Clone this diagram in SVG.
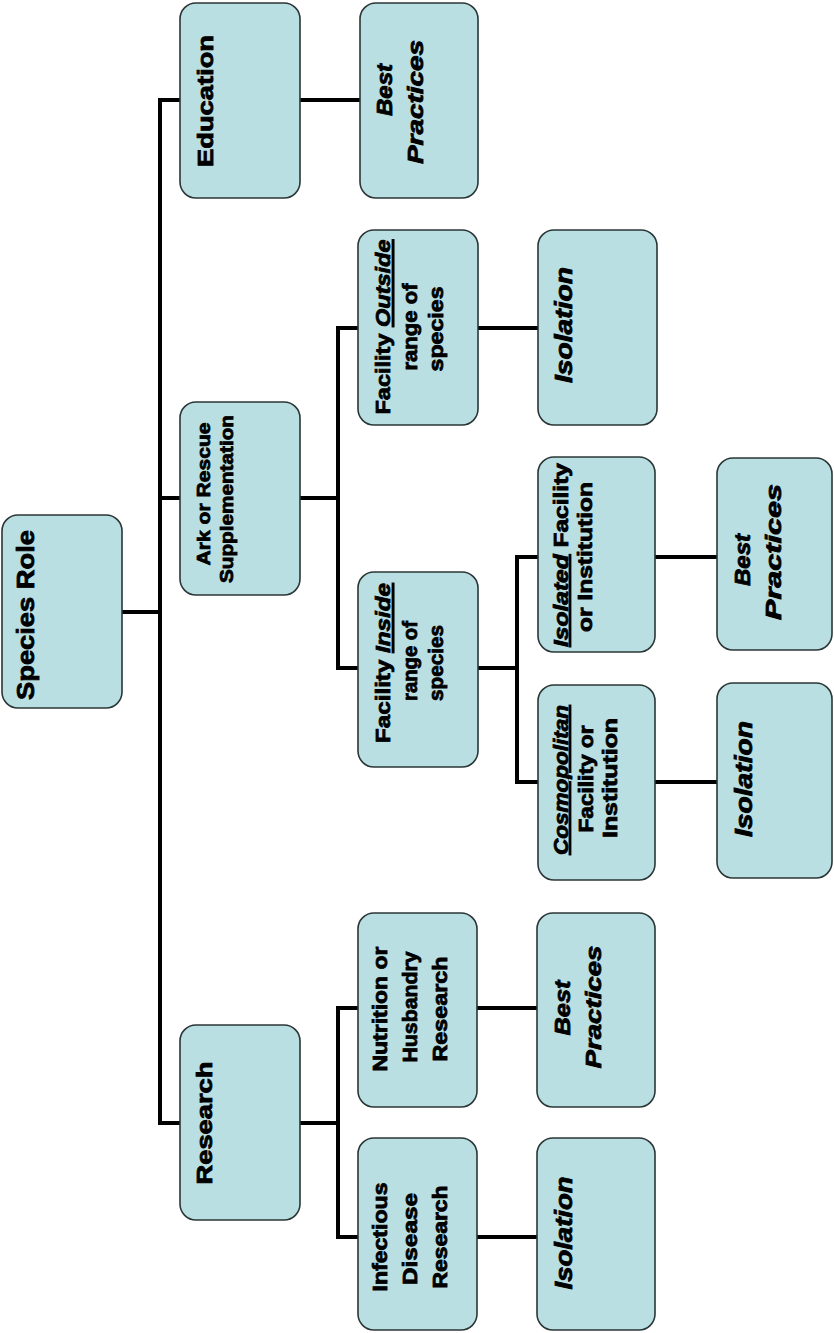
<svg xmlns="http://www.w3.org/2000/svg" width="834" height="1333" viewBox="0 0 834 1333">
<style>
.box{fill:#b9dfe3;stroke:#2b3636;stroke-width:1.6}
.lbl{font-family:"Liberation Sans",Arial,sans-serif;font-weight:bold;fill:#000;stroke:#000;stroke-width:0.8;text-anchor:middle}
.it{font-style:italic}
.u{text-decoration:underline}
.conn{stroke:#000;stroke-width:4;fill:none;stroke-linecap:square}
</style>
<rect width="834" height="1333" fill="#fff"/>
<g id="connectors">
<path class="conn" d="M122 612H160M160 100V1123M160 100H180M160 498H180M160 1123H180"/>
<path class="conn" d="M300 100H360"/>
<path class="conn" d="M300 498H338M338 328V668M338 328H358M338 668H358"/>
<path class="conn" d="M478 328H538"/>
<path class="conn" d="M478 668H517M517 557V782M517 557H538M517 782H538"/>
<path class="conn" d="M655 557H717M655 782H717"/>
<path class="conn" d="M300 1123H338M338 1008V1237M338 1008H358M338 1237H358"/>
<path class="conn" d="M477 1008H537M477 1237H537"/>
</g>
<g id="species-role">
<rect class="box" x="2" y="515" width="120" height="193" rx="16"/>
<text class="lbl" font-size="24" transform="translate(34,615) rotate(-90)" textLength="170" lengthAdjust="spacingAndGlyphs">Species Role</text>
</g>
<g id="education">
<rect class="box" x="180" y="3" width="120" height="195" rx="16"/>
<text class="lbl" font-size="22" transform="translate(213,101) rotate(-90)" textLength="132" lengthAdjust="spacingAndGlyphs">Education</text>
</g>
<g id="education-best-practices">
<rect class="box" x="360" y="3" width="118" height="195" rx="16"/>
<text class="lbl it" font-size="22" transform="translate(392,90) rotate(-90)" textLength="52" lengthAdjust="spacingAndGlyphs">Best</text>
<text class="lbl it" font-size="22" transform="translate(423,102) rotate(-90)" textLength="124" lengthAdjust="spacingAndGlyphs">Practices</text>
</g>
<g id="ark">
<rect class="box" x="180" y="402" width="120" height="193" rx="16"/>
<text class="lbl" font-size="19" transform="translate(210,494) rotate(-90)" textLength="143" lengthAdjust="spacingAndGlyphs">Ark or Rescue</text>
<text class="lbl" font-size="19" transform="translate(233,499) rotate(-90)" textLength="168" lengthAdjust="spacingAndGlyphs">Supplementation</text>
</g>
<g id="facility-outside">
<rect class="box" x="358" y="230" width="120" height="195" rx="16"/>
<text class="lbl" font-size="21" transform="translate(390,327) rotate(-90)" textLength="175" lengthAdjust="spacingAndGlyphs">Facility <tspan class="it u">Outside</tspan></text>
<text class="lbl" font-size="21" transform="translate(417,327) rotate(-90)" textLength="87" lengthAdjust="spacingAndGlyphs">range of</text>
<text class="lbl" font-size="21" transform="translate(443,329) rotate(-90)" textLength="85" lengthAdjust="spacingAndGlyphs">species</text>
</g>
<g id="outside-isolation">
<rect class="box" x="538" y="230" width="119" height="195" rx="16"/>
<text class="lbl it" font-size="23" transform="translate(572,325) rotate(-90)" textLength="116" lengthAdjust="spacingAndGlyphs">Isolation</text>
</g>
<g id="facility-inside">
<rect class="box" x="358" y="572" width="120" height="195" rx="16"/>
<text class="lbl" font-size="21" transform="translate(390,663) rotate(-90)" textLength="160" lengthAdjust="spacingAndGlyphs">Facility <tspan class="it u">Inside</tspan></text>
<text class="lbl" font-size="21" transform="translate(417,661) rotate(-90)" textLength="80" lengthAdjust="spacingAndGlyphs">range of</text>
<text class="lbl" font-size="21" transform="translate(443,663) rotate(-90)" textLength="76" lengthAdjust="spacingAndGlyphs">species</text>
</g>
<g id="isolated-facility">
<rect class="box" x="538" y="457" width="117" height="195" rx="16"/>
<text class="lbl" font-size="20" transform="translate(568,555) rotate(-90)" textLength="184" lengthAdjust="spacingAndGlyphs"><tspan class="it u">Isolated</tspan> Facility</text>
<text class="lbl" font-size="20" transform="translate(592,557) rotate(-90)" textLength="150" lengthAdjust="spacingAndGlyphs">or Institution</text>
</g>
<g id="isolated-best-practices">
<rect class="box" x="717" y="458" width="115" height="192" rx="16"/>
<text class="lbl it" font-size="22" transform="translate(750,560) rotate(-90)" textLength="52" lengthAdjust="spacingAndGlyphs">Best</text>
<text class="lbl it" font-size="22" transform="translate(781,552) rotate(-90)" textLength="136" lengthAdjust="spacingAndGlyphs">Practices</text>
</g>
<g id="cosmopolitan-facility">
<rect class="box" x="538" y="685" width="117" height="195" rx="16"/>
<text class="lbl it u" font-size="20" transform="translate(568,780) rotate(-90)" textLength="150" lengthAdjust="spacingAndGlyphs">Cosmopolitan</text>
<text class="lbl" font-size="20" transform="translate(593,779) rotate(-90)" textLength="107" lengthAdjust="spacingAndGlyphs">Facility or</text>
<text class="lbl" font-size="20" transform="translate(617,778) rotate(-90)" textLength="120" lengthAdjust="spacingAndGlyphs">Institution</text>
</g>
<g id="cosmopolitan-isolation">
<rect class="box" x="717" y="683" width="115" height="195" rx="16"/>
<text class="lbl it" font-size="23" transform="translate(752,779) rotate(-90)" textLength="116" lengthAdjust="spacingAndGlyphs">Isolation</text>
</g>
<g id="research">
<rect class="box" x="180" y="1025" width="120" height="195" rx="16"/>
<text class="lbl" font-size="22" transform="translate(212,1123) rotate(-90)" textLength="123" lengthAdjust="spacingAndGlyphs">Research</text>
</g>
<g id="nutrition-research">
<rect class="box" x="358" y="913" width="119" height="194" rx="16"/>
<text class="lbl" font-size="20" transform="translate(387,1009) rotate(-90)" textLength="125" lengthAdjust="spacingAndGlyphs">Nutrition or</text>
<text class="lbl" font-size="20" transform="translate(417,1007) rotate(-90)" textLength="111" lengthAdjust="spacingAndGlyphs">Husbandry</text>
<text class="lbl" font-size="20" transform="translate(447,1009) rotate(-90)" textLength="105" lengthAdjust="spacingAndGlyphs">Research</text>
</g>
<g id="nutrition-best-practices">
<rect class="box" x="537" y="913" width="118" height="194" rx="16"/>
<text class="lbl it" font-size="22" transform="translate(570,1008) rotate(-90)" textLength="55" lengthAdjust="spacingAndGlyphs">Best</text>
<text class="lbl it" font-size="22" transform="translate(601,1007) rotate(-90)" textLength="123" lengthAdjust="spacingAndGlyphs">Practices</text>
</g>
<g id="infectious-research">
<rect class="box" x="358" y="1138" width="119" height="192" rx="16"/>
<text class="lbl" font-size="20" transform="translate(387,1237) rotate(-90)" textLength="109" lengthAdjust="spacingAndGlyphs">Infectious</text>
<text class="lbl" font-size="20" transform="translate(417,1239) rotate(-90)" textLength="92" lengthAdjust="spacingAndGlyphs">Disease</text>
<text class="lbl" font-size="20" transform="translate(447,1237) rotate(-90)" textLength="103" lengthAdjust="spacingAndGlyphs">Research</text>
</g>
<g id="infectious-isolation">
<rect class="box" x="537" y="1138" width="118" height="192" rx="16"/>
<text class="lbl it" font-size="23" transform="translate(572,1233) rotate(-90)" textLength="113" lengthAdjust="spacingAndGlyphs">Isolation</text>
</g>
</svg>
